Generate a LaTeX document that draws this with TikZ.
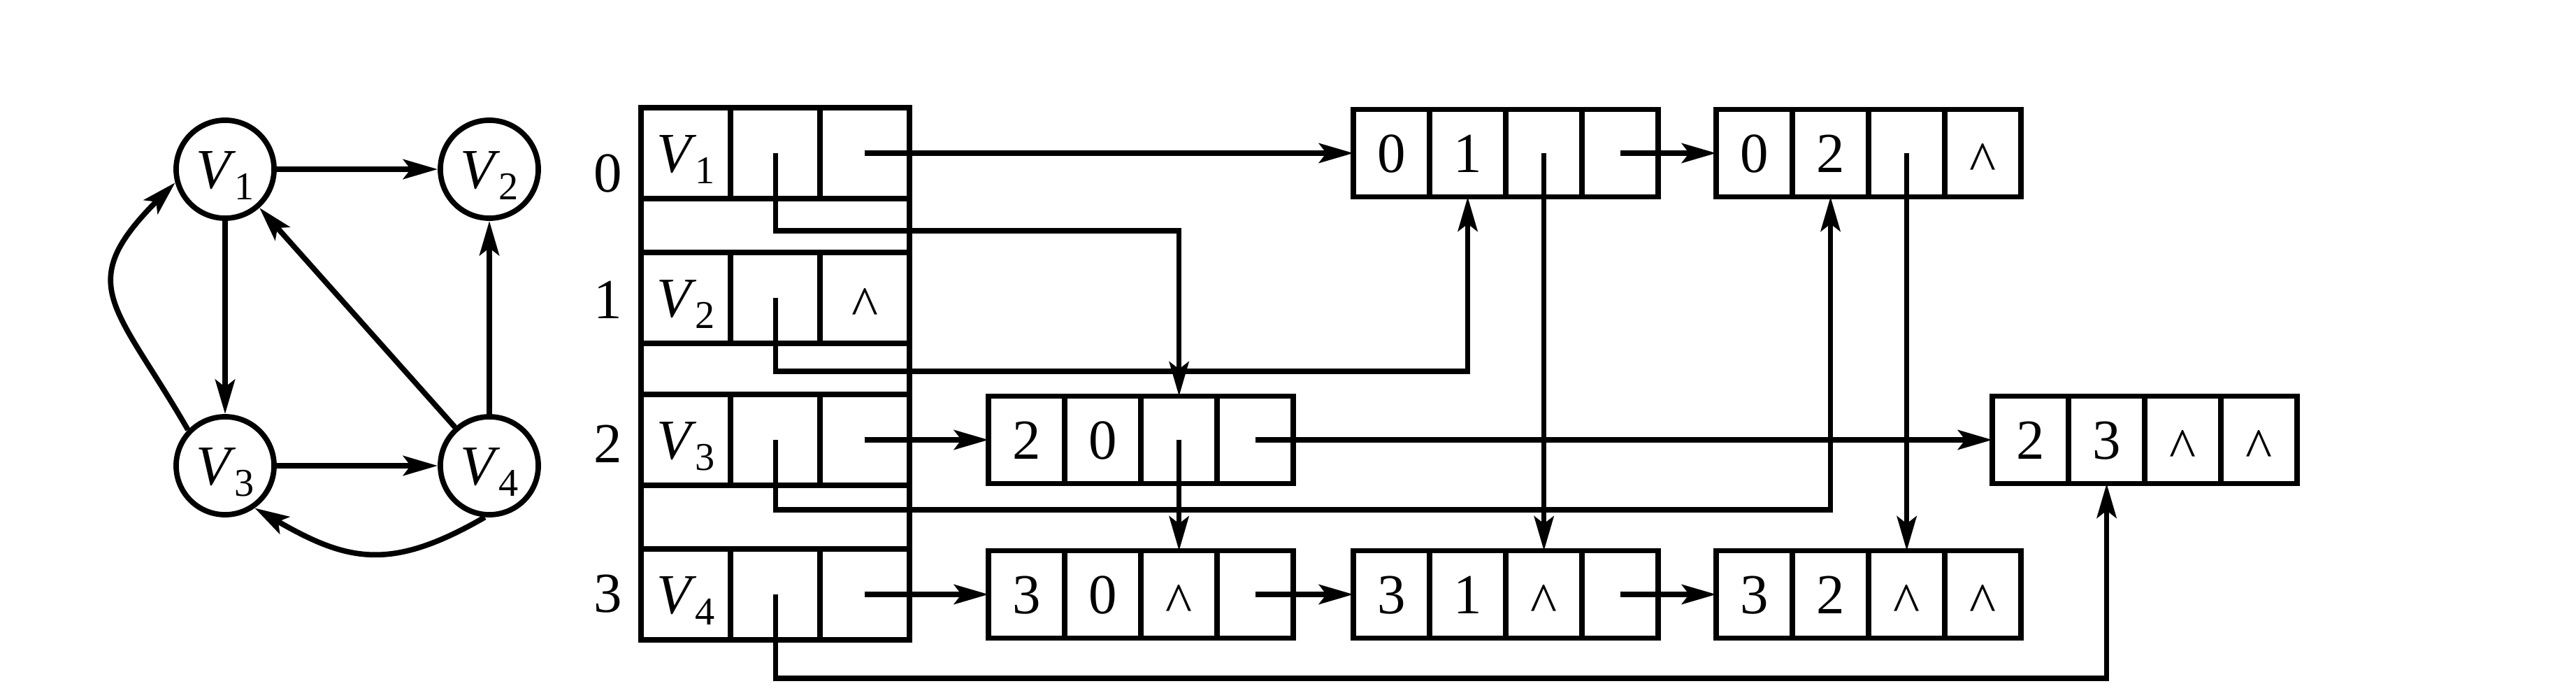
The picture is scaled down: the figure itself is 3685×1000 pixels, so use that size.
\documentclass[tikz,border=0pt]{standalone}
\usepackage{fontspec}
\setmainfont{Liberation Serif}
\usetikzlibrary{positioning,arrows.meta}

\newcommand{\vlab}[1]{\textit{V}\kern-0.5pt\raisebox{-4.5pt}{\fontsize{16}{16}\selectfont #1}}
\newcommand{\nil}{\raisebox{-3.4pt}{\textasciicircum}}

\tikzset{
  vert/.style={draw, circle, line width=2.2pt, minimum size=1.4cm, inner sep=0pt,
    text height=15.5pt, text depth=0pt},
  tcell/.style={draw, line width=2.2pt, minimum width=1.28cm, minimum height=1.3cm,
    inner sep=0pt, outer sep=0pt, text height=15.5pt, text depth=0pt},
  acell/.style={tcell, minimum width=1.09cm, minimum height=1.25cm},
  ptr/.style={line width=2pt, -{Stealth[length=14pt,width=8pt,inset=3pt]}},
  gedge/.style={line width=2.2pt, -{Stealth[length=14pt,width=8pt,inset=3pt]}},
}

\begin{document}
\begin{tikzpicture}[x=0.01cm, y=0.01cm, node distance=0pt, font=\fontsize{23}{27}\selectfont]
    \useasboundingbox (0,0) rectangle (3685,1000);

    % the graph
    \node[vert] (V1) at (322,758) {\vlab{1}};
    \node[vert] (V2) at (700,758) {\vlab{2}};
    \node[vert] (V3) at (322,334) {\vlab{3}};
    \node[vert] (V4) at (700,334) {\vlab{4}};
    \draw[gedge] (V1) -- (V2);
    \draw[gedge] (V1) -- (V3);
    \draw[gedge] (V3) -- (V4);
    \draw[gedge] (V4) -- (V2);
    \draw[gedge] (V4) -- (V1);
    \draw[gedge] (V3.136) to[out=120, in=225, looseness=1.5] (V1.195);
    \draw[gedge] (V4.265) to[out=210, in=-30, looseness=1.2] (V3.-55);

    % vertex table
    \node[tcell] (t0a) at (981,781) {\vlab{1}};
    \node[tcell,right=of t0a] (t0b) {};
    \node[tcell,right=of t0b] (t0c) {};
    \node[tcell] (t1a) at (981,574) {\vlab{2}};
    \node[tcell,right=of t1a] (t1b) {};
    \node[tcell,right=of t1b] (t1c) {\nil};
    \node[tcell] (t2a) at (981,371) {\vlab{3}};
    \node[tcell,right=of t2a] (t2b) {};
    \node[tcell,right=of t2b] (t2c) {};
    \node[tcell] (t3a) at (981,150) {\vlab{4}};
    \node[tcell,right=of t3a] (t3b) {};
    \node[tcell,right=of t3b] (t3c) {};
    \draw[line width=2.2pt] (t0a.north west) rectangle (t3c.south east);
    \node (i0) at (870,752) {0};
    \node (i1) at (870,571) {1};
    \node (i2) at (870,365) {2};
    \node (i3) at (870,151) {3};

    % arc nodes
    \node[acell] (a01a) at (1990.5,781) {0};
    \node[acell,right=of a01a] (a01b) {1};
    \node[acell,right=of a01b] (a01c) {};
    \node[acell,right=of a01c] (a01d) {};
    \node[acell] (a02a) at (2509.5,781) {0};
    \node[acell,right=of a02a] (a02b) {2};
    \node[acell,right=of a02b] (a02c) {};
    \node[acell,right=of a02c] (a02d) {\nil};
    \node[acell] (a20a) at (1468.5,371) {2};
    \node[acell,right=of a20a] (a20b) {0};
    \node[acell,right=of a20b] (a20c) {};
    \node[acell,right=of a20c] (a20d) {};
    \node[acell] (a23a) at (2904.5,371) {2};
    \node[acell,right=of a23a] (a23b) {3};
    \node[acell,right=of a23b] (a23c) {\nil};
    \node[acell,right=of a23c] (a23d) {\nil};
    \node[acell] (a30a) at (1468.5,150) {3};
    \node[acell,right=of a30a] (a30b) {0};
    \node[acell,right=of a30b] (a30c) {\nil};
    \node[acell,right=of a30c] (a30d) {};
    \node[acell] (a31a) at (1990.5,150) {3};
    \node[acell,right=of a31a] (a31b) {1};
    \node[acell,right=of a31b] (a31c) {\nil};
    \node[acell,right=of a31c] (a31d) {};
    \node[acell] (a32a) at (2509.5,150) {3};
    \node[acell,right=of a32a] (a32b) {2};
    \node[acell,right=of a32b] (a32c) {\nil};
    \node[acell,right=of a32c] (a32d) {\nil};

    % lanes for the in-pointers
    \coordinate (lane0) at (0,670);
    \coordinate (lane1) at (0,469);
    \coordinate (lane2) at (0,271);
    \coordinate (lane3) at (0,30);

    % firstin
    \draw[ptr] (t0b.center) -- (t0b.center |- lane0) -| (a20c.north);
    \draw[ptr] (t1b.center) -- (t1b.center |- lane1) -| (a01b.south);
    \draw[ptr] (t2b.center) -- (t2b.center |- lane2) -| (a02b.south);
    \draw[ptr] (t3b.center) -- (t3b.center |- lane3) -| (a23b.south);
    % firstout
    \draw[ptr] (t0c.center) -- (a01a.west);
    \draw[ptr] (t2c.center) -- (a20a.west);
    \draw[ptr] (t3c.center) -- (a30a.west);
    % hlink
    \draw[ptr] (a01c.center) -- (a31c.north);
    \draw[ptr] (a02c.center) -- (a32c.north);
    \draw[ptr] (a20c.center) -- (a30c.north);
    % tlink
    \draw[ptr] (a01d.center) -- (a02a.west);
    \draw[ptr] (a20d.center) -- (a23a.west);
    \draw[ptr] (a30d.center) -- (a31a.west);
    \draw[ptr] (a31d.center) -- (a32a.west);
\end{tikzpicture}
\end{document}
